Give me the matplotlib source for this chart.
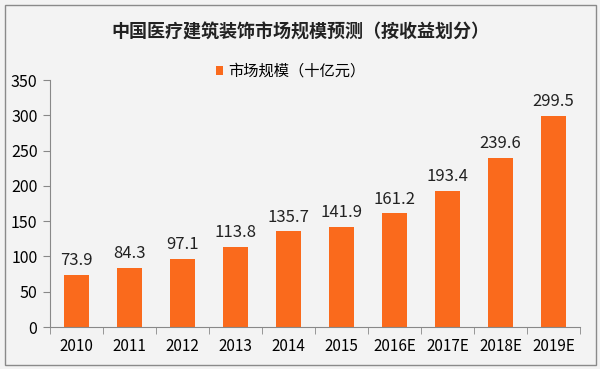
# 中国医疗建筑装饰市场规模预测 - bar chart
import numpy as np
import matplotlib.pyplot as plt
from matplotlib.patches import Rectangle

plt.rcParams['font.family'] = ['Noto Sans CJK SC', 'DejaVu Sans']

# data
years = ['2010', '2011', '2012', '2013', '2014', '2015', '2016E', '2017E', '2018E', '2019E']
values = [73.9, 84.3, 97.1, 113.8, 135.7, 141.9, 161.2, 193.4, 239.6, 299.5]

bg = '#f3f3f3'
bar_color = '#fa6a1c'

fig = plt.figure(figsize=(6, 3.69), dpi=100, facecolor=bg)
fig.patches.append(Rectangle((0.008, 0.012), 0.986, 0.975, transform=fig.transFigure,
                             fill=False, edgecolor='#8a8a8a', linewidth=1))
ax = fig.add_axes([0.0833, 0.1138, 0.8834, 0.669], facecolor=bg)

x = np.arange(len(years))
bars = ax.bar(x, values, width=0.47, color=bar_color, label='市场规模（十亿元）', zorder=2)
for xi, v in zip(x, values):
    ax.text(xi, v + 8, f'{v:.1f}', ha='center', va='bottom', fontsize=12, color='#222222')

ax.set_xlim(-0.5, len(years) - 0.5)
ax.set_ylim(0, 350)
ax.set_yticks(range(0, 351, 50))
ax.set_xticks(x)
ax.set_xticklabels(years)
ax.set_xticks(np.arange(-0.5, len(years), 1), minor=True)
ax.tick_params(axis='x', which='major', length=0, labelsize=11, pad=8)
ax.tick_params(axis='x', which='minor', length=5, color='#888888')
ax.tick_params(axis='y', length=5, color='#888888', labelsize=11.5, pad=4)

for s in ['top', 'right']:
    ax.spines[s].set_visible(False)
for s in ['left', 'bottom']:
    ax.spines[s].set_color('#888888')

fig.text(0.5, 0.913, '中国医疗建筑装饰市场规模预测（按收益划分）', ha='center', va='center',
         fontsize=13, fontweight='bold', color='#222222')
ax.legend(loc='center', bbox_to_anchor=(0.455, 1.035), frameon=False, fontsize=11,
          handlelength=0.4, handleheight=0.6, handletextpad=0.4)

fig.savefig('out.png', dpi=100, facecolor=bg)
